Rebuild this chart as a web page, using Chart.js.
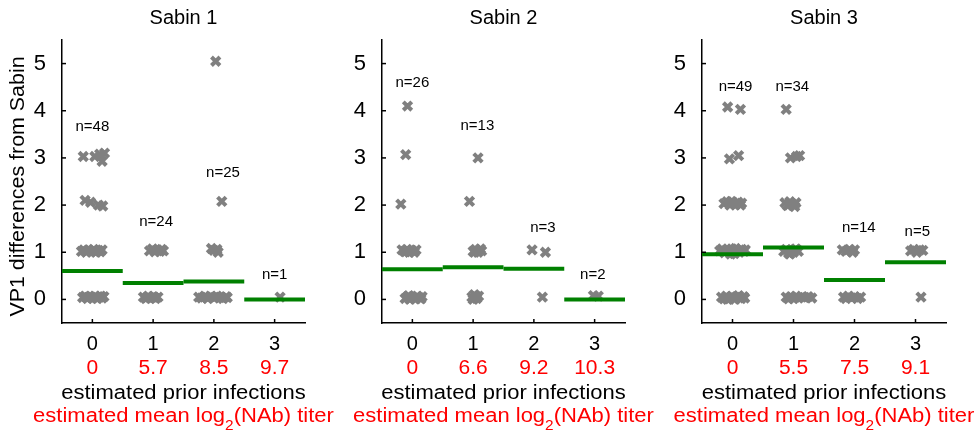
<!DOCTYPE html>
<html>
<head>
<meta charset="utf-8">
<script src="https://cdn.jsdelivr.net/npm/chart.js@4/dist/chart.umd.min.js"></script>
<style>
  html, body { margin: 0; padding: 0; background: #fff; }
  #wrap { position: relative; width: 974px; height: 433px; overflow: hidden; }
  .panel { position: absolute; top: 0; }
</style>
</head>
<body>
<div id="wrap">
  <div class="panel" style="left:0"><canvas id="c1" width="340" height="433"></canvas></div>
  <div class="panel" style="left:320px"><canvas id="c2" width="340" height="433"></canvas></div>
  <div class="panel" style="left:640px"><canvas id="c3" width="334" height="433"></canvas></div>
</div>
<script>
const FONT = '"Liberation Sans", Arial, sans-serif';

const xTicks = [0, 1, 2, 3];
const yTicks = [0, 1, 2, 3, 4, 5];

// Sabin 1 -- jittered points (x = prior infections + jitter, y = VP1 differences)
const s1X = [
  -0.15, 0.04, 0.12, 0.16, 0.20,
  -0.12, -0.03, 0.10, 0.17,
  -0.18, -0.14, -0.10, -0.06, -0.02, 0.02, 0.06, 0.10, 0.13, 0.16, -0.08, 0.04,
  -0.16, -0.12, -0.08, -0.04, 0.00, 0.04, 0.08, 0.12, 0.16, 0.19, -0.10, 0.06, 0.14, -0.02,
  0.94, 0.99, 1.03, 1.07, 1.11, 1.14, 1.17,
  0.84, 0.88, 0.92, 0.96, 1.00, 1.04, 1.08, 0.90, 1.02,
  2.03, 2.13, 1.96, 2.00, 2.05, 2.07,
  1.75, 1.80, 1.85, 1.90, 1.95, 2.00, 2.05, 2.10, 2.15, 2.20, 2.22, 1.88, 2.02,
  3.09
];
const s1Y = [
  3.03, 3.03, 3.08, 2.93, 3.10,
  2.10, 2.06, 2.00, 1.98,
  1.02, 1.05, 1.00, 1.05, 1.02, 1.06, 1.00, 1.04, 1.01, 1.05, 1.03, 1.03,
  0.04, 0.07, 0.02, 0.06, 0.03, 0.07, 0.02, 0.05, 0.03, 0.06, 0.05, 0.04, 0.07, 0.05,
  1.03, 1.07, 1.01, 1.05, 1.02, 1.06, 1.03,
  0.05, 0.02, 0.07, 0.03, 0.06, 0.02, 0.05, 0.04, 0.04,
  5.05, 2.08, 1.08, 1.04, 1.06, 1.00,
  0.05, 0.03, 0.07, 0.02, 0.06, 0.03, 0.07, 0.04, 0.02, 0.06, 0.04, 0.05, 0.05,
  0.05
];
const s1Mean = [0.60, 0.35, 0.38, 0.0];
const s1N = ['n=48', 'n=24', 'n=25', 'n=1'];
const s1NX = [0.0, 1.05, 2.15, 3.0];
const s1NY = [3.65, 1.64, 2.69, 0.53];
const s1Titer = ['0', '5.7', '8.5', '9.7'];

// Sabin 2
const s2X = [
  -0.08, -0.11, -0.19,
  -0.17, -0.13, -0.09, -0.05, -0.01, 0.03, 0.06, -0.11,
  -0.12, -0.08, -0.04, 0.00, 0.04, 0.08, 0.12, 0.16, 0.14, -0.06, 0.06,
  1.08, 0.94,
  1.00, 1.04, 1.08, 1.12, 1.14, 1.02,
  0.98, 1.02, 1.06, 1.09, 1.00, 1.05,
  1.97, 2.19, 2.14,
  2.98, 3.06
];
const s2Y = [
  4.10, 3.07, 2.02,
  1.05, 1.02, 1.06, 1.00, 1.04, 1.00, 1.05, 1.01,
  0.02, 0.06, 0.00, 0.05, 0.01, 0.07, 0.03, 0.06, 0.01, 0.08, 0.02,
  3.00, 2.08,
  1.02, 1.06, 1.00, 1.07, 1.03, 1.00,
  0.05, 0.10, 0.02, 0.07, 0.00, 0.06,
  1.05, 1.00, 0.05,
  0.08, 0.07
];
const s2Mean = [0.64, 0.68, 0.65, 0.0];
const s2N = ['n=26', 'n=13', 'n=3', 'n=2'];
const s2NX = [0.0, 1.07, 2.15, 2.97];
const s2NY = [4.59, 3.68, 1.51, 0.53];
const s2Titer = ['0', '6.6', '9.2', '10.3'];

// Sabin 3
const s3X = [
  -0.08, 0.13, -0.05, 0.10,
  -0.14, -0.09, -0.04, 0.01, 0.05, 0.09, 0.13, 0.15, -0.02,
  -0.21, -0.17, -0.13, -0.09, -0.05, -0.01, 0.03, 0.07, 0.11, 0.15, 0.19, 0.21, -0.03, 0.05,
  -0.18, -0.14, -0.10, -0.06, -0.02, 0.02, 0.06, 0.10, 0.14, 0.18, 0.20, -0.08, 0.04,
  0.88, 0.95, 1.05, 1.10,
  0.86, 0.90, 0.94, 0.98, 1.02, 1.04, 0.92,
  0.84, 0.88, 0.92, 0.96, 1.00, 1.04, 1.08, 0.94, 1.02,
  0.88, 0.92, 0.96, 1.00, 1.04, 1.08, 1.13, 1.18, 1.24, 1.30,
  1.80, 1.86, 1.92, 1.97, 2.00,
  1.82, 1.86, 1.90, 1.95, 2.00, 2.05, 2.10,
  2.92, 2.97, 3.02, 3.07, 3.12, 3.09
];
const s3Y = [
  4.08, 4.03, 2.98, 3.05,
  2.03, 2.07, 2.00, 2.05, 2.01, 2.06, 2.00, 2.04, 2.08,
  1.03, 1.07, 0.99, 1.05, 1.01, 1.07, 0.97, 1.04, 1.00, 1.06, 1.02, 1.05, 0.96, 1.08,
  0.05, 0.01, 0.07, 0.03, 0.06, 0.01, 0.05, 0.08, 0.02, 0.06, 0.03, 0.00, 0.00,
  4.03, 3.00, 3.03, 3.05,
  2.05, 1.99, 2.07, 2.02, 1.97, 2.05, 2.00,
  1.02, 1.06, 0.98, 1.04, 1.00, 1.07, 1.02, 0.96, 1.05,
  0.05, 0.01, 0.06, 0.02, 0.07, 0.03, 0.05, 0.04, 0.06, 0.03,
  1.05, 1.02, 1.06, 1.00, 1.05,
  0.05, 0.02, 0.07, 0.03, 0.06, 0.02, 0.05,
  1.03, 1.06, 1.00, 1.05, 1.04, 0.05
];
const s3Mean = [0.96, 1.10, 0.41, 0.79];
const s3N = ['n=49', 'n=34', 'n=14', 'n=5'];
const s3NX = [0.05, 0.98, 2.07, 3.03];
const s3NY = [4.50, 4.50, 1.51, 1.44];
const s3Titer = ['0', '5.5', '7.5', '9.1'];

Chart.defaults.font.family = FONT;
Chart.defaults.color = '#000';

// the source figure uses a slightly wide sans, so stretch text horizontally
function wideText(ctx, str, x, y, size, color, sx, align, baseline, rot) {
  ctx.save();
  ctx.translate(x, y);
  if (rot) ctx.rotate(rot);
  ctx.scale(sx, 1);
  ctx.font = size + 'px ' + FONT;
  ctx.fillStyle = color;
  ctx.textAlign = align || 'center';
  ctx.textBaseline = baseline || 'alphabetic';
  ctx.fillText(str, 0, 0);
  ctx.restore();
}

// inside tick marks, n= labels, red titer row and the axis titles
function extras(nText, nX, nY, titer, showYTitle) {
  return {
    id: 'extras',
    afterDraw(chart) {
      const { ctx, chartArea: a, scales: { x, y } } = chart;
      ctx.save();
      ctx.strokeStyle = '#000';
      ctx.lineWidth = 1.5;
      yTicks.forEach(v => {
        const py = y.getPixelForValue(v);
        ctx.beginPath(); ctx.moveTo(a.left, py); ctx.lineTo(a.left + 4, py); ctx.stroke();
      });
      xTicks.forEach(v => {
        const px = x.getPixelForValue(v);
        ctx.beginPath(); ctx.moveTo(px, a.bottom); ctx.lineTo(px, a.bottom - 4); ctx.stroke();
      });
      ctx.restore();

      nText.forEach((t, i) =>
        wideText(ctx, t, x.getPixelForValue(nX[i]), y.getPixelForValue(nY[i]), 15, '#000', 1, 'center', 'middle'));

      titer.forEach((t, i) =>
        wideText(ctx, t, x.getPixelForValue(xTicks[i]), a.bottom + 51, 20, '#f00', 1.05));

      const cx = (a.left + a.right) / 2;
      wideText(ctx, 'estimated prior infections', cx, a.bottom + 76, 20, '#000', 1.1);

      // red title with subscript 2
      const sx = 1.1;
      const p1 = 'estimated mean log', p2 = '2', p3 = '(NAb) titer';
      ctx.save();
      ctx.font = '20px ' + FONT;
      const w1 = ctx.measureText(p1).width * sx, w3 = ctx.measureText(p3).width * sx;
      ctx.font = '14px ' + FONT;
      const w2 = ctx.measureText(p2).width * sx;
      ctx.restore();
      const left = cx - (w1 + w2 + w3) / 2;
      wideText(ctx, p1, left, a.bottom + 99, 20, '#f00', sx, 'left');
      wideText(ctx, p2, left + w1, a.bottom + 107, 14, '#f00', sx, 'left');
      wideText(ctx, p3, left + w1 + w2, a.bottom + 99, 20, '#f00', sx, 'left');

      if (showYTitle) {
        wideText(ctx, 'VP1 differences from Sabin', 18, (a.top + a.bottom) / 2 + 5, 20, '#000', 1.07,
          'center', 'middle', -Math.PI / 2);
      }
    }
  };
}

function makePanel(id, title, xs, ys, means, nText, nX, nY, titer, showYTitle, padRight) {
  const points = xs.map((x, i) => ({ x, y: ys[i] }));
  const meanSets = means.map((m, i) => ({
    data: [{ x: xTicks[i] - 0.5, y: m }, { x: xTicks[i] + 0.5, y: m }],
    showLine: true,
    borderColor: '#008000',
    borderWidth: 4,
    pointRadius: 0,
    order: 0
  }));
  new Chart(document.getElementById(id), {
    type: 'scatter',
    data: {
      datasets: [
        {
          data: points,
          pointStyle: 'crossRot',
          pointRadius: 6,
          pointBorderWidth: 4,
          borderColor: '#808080',
          backgroundColor: '#808080',
          order: 1
        },
        ...meanSets
      ]
    },
    options: {
      responsive: false,
      animation: false,
      layout: { padding: { left: 0, right: padRight, top: 0, bottom: 0 } },
      plugins: {
        legend: { display: false },
        tooltip: { enabled: false },
        title: {
          display: true,
          text: title,
          fullSize: false,
          font: { size: 20, weight: 'normal' },
          color: '#000',
          padding: { top: 6, bottom: 10 }
        }
      },
      scales: {
        x: {
          type: 'linear',
          min: -0.5,
          max: 3.5,
          afterBuildTicks: s => { s.ticks = xTicks.map(v => ({ value: v })); },
          afterFit: s => { s.height = 110; },
          grid: { display: false },
          border: { display: true, color: '#000', width: 1.5 },
          ticks: { font: { size: 20 }, padding: 1, color: '#000', maxRotation: 0 }
        },
        y: {
          min: -0.5,
          max: 5.5,
          afterBuildTicks: s => { s.ticks = yTicks.map(v => ({ value: v })); },
          afterFit: s => { s.width = 62; },
          grid: { display: false },
          border: { display: true, color: '#000', width: 1.5 },
          ticks: { font: { size: 22 }, padding: 8, color: '#000' }
        }
      }
    },
    plugins: [extras(nText, nX, nY, titer, showYTitle)]
  });
}

makePanel('c1', 'Sabin 1', s1X, s1Y, s1Mean, s1N, s1NX, s1NY, s1Titer, true, 35);
makePanel('c2', 'Sabin 2', s2X, s2Y, s2Mean, s2N, s2NX, s2NY, s2Titer, false, 35);
makePanel('c3', 'Sabin 3', s3X, s3Y, s3Mean, s3N, s3NX, s3NY, s3Titer, false, 28);
</script>
</body>
</html>
